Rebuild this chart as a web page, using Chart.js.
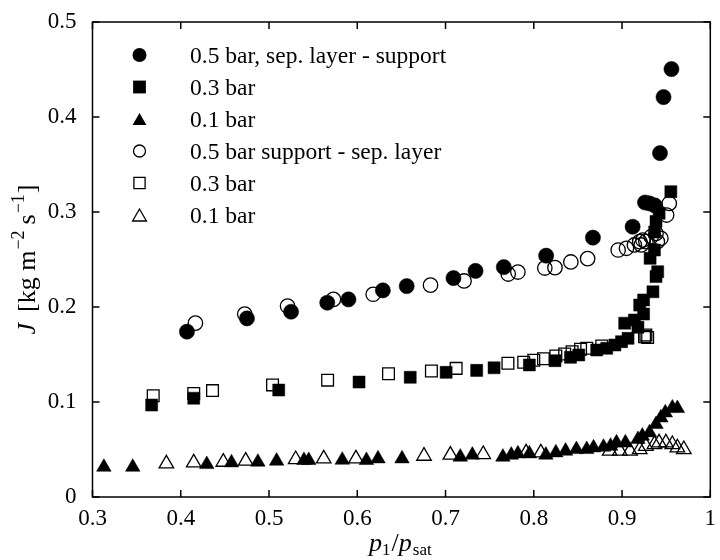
<!DOCTYPE html>
<html><head><meta charset="utf-8">
<script src="https://cdn.jsdelivr.net/npm/chart.js@4/dist/chart.umd.min.js"></script>
<style>html,body{margin:0;padding:0;background:#fff}</style>
</head><body>
<canvas id="c" width="720" height="560"></canvas>
<script>
// ---- data ----
const xTickValues = [0.3, 0.4, 0.5, 0.6, 0.7, 0.8, 0.9, 1];
const yTickValues = [0, 0.1, 0.2, 0.3, 0.4, 0.5];

const legendLabels = ["0.5 bar, sep. layer - support", "0.3 bar", "0.1 bar",
                      "0.5 bar support - sep. layer", "0.3 bar", "0.1 bar"];

// 0.5 bar, sep. layer - support (filled circles)
const c05fX = [0.407, 0.475, 0.525, 0.566, 0.590, 0.629, 0.656, 0.709, 0.734, 0.766, 0.814, 0.867, 0.912, 0.926, 0.931, 0.937, 0.943, 0.947, 0.956];
const c05fY = [0.174, 0.188, 0.195, 0.2045, 0.208, 0.2175, 0.222, 0.2305, 0.238, 0.242, 0.254, 0.273, 0.2845, 0.310, 0.309, 0.307, 0.362, 0.421, 0.4505];

// 0.3 bar (filled squares)
const s03fX = [0.367, 0.4147, 0.511, 0.602, 0.660, 0.7007, 0.7353, 0.755, 0.795, 0.824, 0.8416, 0.851, 0.8713, 0.8826, 0.8919, 0.8994, 0.9068, 0.903, 0.914, 0.918, 0.9244, 0.920, 0.9244, 0.935, 0.9385, 0.9404, 0.9318, 0.9367, 0.937, 0.9385, 0.942, 0.9553];
const s03fY = [0.0968, 0.104, 0.1126, 0.121, 0.126, 0.1312, 0.1333, 0.136, 0.139, 0.1435, 0.147, 0.1495, 0.1547, 0.1565, 0.160, 0.1635, 0.167, 0.183, 0.1863, 0.1786, 0.1926, 0.202, 0.2074, 0.216, 0.232, 0.2372, 0.2512, 0.260, 0.279, 0.290, 0.2986, 0.3214];

// 0.1 bar (filled triangles)
const t01fX = [0.3129, 0.3456, 0.4295, 0.4575, 0.4874, 0.5086, 0.5396, 0.545, 0.583, 0.6104, 0.6235, 0.6507, 0.7167, 0.7304, 0.765, 0.7745, 0.782, 0.795, 0.8137, 0.825, 0.836, 0.8483, 0.860, 0.8677, 0.879, 0.887, 0.8937, 0.9038, 0.918, 0.923, 0.9311, 0.9385, 0.944, 0.949, 0.957, 0.9627];
const t01fY = [0.0315, 0.0315, 0.0343, 0.0361, 0.0368, 0.0379, 0.0386, 0.0386, 0.0389, 0.0386, 0.0403, 0.0403, 0.0421, 0.0442, 0.0421, 0.0442, 0.0456, 0.0456, 0.0442, 0.0466, 0.0484, 0.0501, 0.0501, 0.0519, 0.0526, 0.0536, 0.0571, 0.0571, 0.0607, 0.0642, 0.0677, 0.0765, 0.0834, 0.0887, 0.0939, 0.0933];

// 0.5 bar support - sep. layer (open circles)
const c05oX = [0.4166, 0.4725, 0.521, 0.573, 0.618, 0.683, 0.721, 0.771, 0.782, 0.8125, 0.824, 0.842, 0.861, 0.8956, 0.905, 0.914, 0.9217, 0.920, 0.9236, 0.927, 0.933, 0.9385, 0.940, 0.944, 0.9505, 0.9535];
const c05oY = [0.183, 0.1926, 0.201, 0.208, 0.2134, 0.223, 0.2274, 0.2347, 0.2368, 0.241, 0.2414, 0.2474, 0.2509, 0.260, 0.2618, 0.2653, 0.2653, 0.2688, 0.2705, 0.2688, 0.274, 0.2775, 0.2688, 0.2723, 0.2968, 0.309];

// 0.3 bar (open squares)
const s03oX = [0.3688, 0.4147, 0.436, 0.504, 0.5664, 0.6354, 0.684, 0.712, 0.7707, 0.7886, 0.800, 0.811, 0.825, 0.835, 0.8434, 0.853, 0.860, 0.877, 0.9255, 0.927, 0.929];
const s03oY = [0.1066, 0.109, 0.112, 0.118, 0.123, 0.1298, 0.1326, 0.1354, 0.1407, 0.1418, 0.144, 0.1456, 0.1484, 0.1505, 0.153, 0.1555, 0.1565, 0.159, 0.1688, 0.1705, 0.168];

// 0.1 bar (open triangles)
const t01oX = [0.3837, 0.4147, 0.4482, 0.4736, 0.5302, 0.562, 0.5985, 0.6756, 0.7055, 0.7427, 0.7913, 0.808, 0.886, 0.8975, 0.909, 0.920, 0.927, 0.9367, 0.942, 0.9497, 0.957, 0.9627, 0.970];
const t01oY = [0.035, 0.0361, 0.0368, 0.0379, 0.0396, 0.0403, 0.0403, 0.0431, 0.0442, 0.0449, 0.0466, 0.0466, 0.0484, 0.0484, 0.0484, 0.0501, 0.0536, 0.0554, 0.0571, 0.0571, 0.0554, 0.0519, 0.0501];

// ---- build ----
const zip = (xs, ys) => xs.map((x, i) => ({x: x, y: ys[i]}));
const SERIF = '"Liberation Serif", "DejaVu Serif", serif';

const markerDefs = [
  {style: 'circle',   fill: true,  r: 7.6, lr: 7},
  {style: 'rect',     fill: true,  r: 8.5, lr: 6.4},
  {style: 'triangle', fill: true,  r: 8.4, lr: 8},
  {style: 'circle',   fill: false, r: 7.2, lr: 6},
  {style: 'rect',     fill: false, r: 8.3, lr: 5.6},
  {style: 'triangle', fill: false, r: 8.4, lr: 8}
];
const seriesData = [zip(c05fX, c05fY), zip(s03fX, s03fY), zip(t01fX, t01fY),
                    zip(c05oX, c05oY), zip(s03oX, s03oY), zip(t01oX, t01oY)];

const datasets = seriesData.map((d, i) => ({
  label: legendLabels[i],
  data: d,
  pointStyle: markerDefs[i].style,
  pointRadius: markerDefs[i].r,
  pointHoverRadius: markerDefs[i].r,
  pointBackgroundColor: markerDefs[i].fill ? '#000' : 'rgba(0,0,0,0)',
  pointBorderColor: '#000',
  pointBorderWidth: markerDefs[i].fill ? 0.5 : 1.3,
  showLine: false,
  order: markerDefs[i].fill ? 0 : 1
}));

function drawMarker(ctx, style, fill, x, y, r) {
  ctx.save();
  ctx.beginPath();
  if (style === 'circle') {
    ctx.arc(x, y, r, 0, Math.PI * 2);
  } else if (style === 'rect') {
    ctx.rect(x - r, y - r, 2 * r, 2 * r);
  } else {
    const w = r * Math.sin(Math.PI / 3);
    ctx.moveTo(x, y - r);
    ctx.lineTo(x + w, y + r / 2);
    ctx.lineTo(x - w, y + r / 2);
    ctx.closePath();
  }
  if (fill) { ctx.fillStyle = '#000'; ctx.fill(); }
  else { ctx.strokeStyle = '#000'; ctx.lineWidth = 1.3; ctx.stroke(); }
  ctx.restore();
}

function drawRich(ctx, segs, x, y, align) {
  let total = 0;
  segs.forEach(s => {
    ctx.font = (s.italic ? 'italic ' : '') + s.size + 'px ' + SERIF;
    s.w = ctx.measureText(s.t).width + (s.gap || 0);
    total += s.w;
  });
  let cx = align === 'center' ? x - total / 2 : x;
  segs.forEach(s => {
    ctx.font = (s.italic ? 'italic ' : '') + s.size + 'px ' + SERIF;
    ctx.fillText(s.t, cx, y + (s.dy || 0));
    cx += s.w;
  });
}

const framePlugin = {
  id: 'frame',
  afterDatasetsDraw(chart) {
    const ctx = chart.ctx;
    const a = chart.chartArea;
    const xs = chart.scales.x, ys = chart.scales.y;
    ctx.save();
    ctx.strokeStyle = '#000';
    ctx.lineWidth = 1.5;
    ctx.strokeRect(a.left, a.top, a.right - a.left, a.bottom - a.top);
    const L = 7;
    ctx.beginPath();
    xTickValues.forEach(v => {
      const p = xs.getPixelForValue(v);
      ctx.moveTo(p, a.bottom); ctx.lineTo(p, a.bottom - L);
      ctx.moveTo(p, a.top); ctx.lineTo(p, a.top + L);
    });
    yTickValues.forEach(v => {
      const p = ys.getPixelForValue(v);
      ctx.moveTo(a.left, p); ctx.lineTo(a.left + L, p);
      ctx.moveTo(a.right, p); ctx.lineTo(a.right - L, p);
    });
    ctx.stroke();

    // legend
    ctx.fillStyle = '#000';
    ctx.textBaseline = 'alphabetic';
    ctx.textAlign = 'left';
    legendLabels.forEach((lab, i) => {
      const cy = 55 + i * 32;
      const m = markerDefs[i];
      drawMarker(ctx, m.style, m.fill, 139.5, m.style === 'triangle' ? cy + 2 : cy, m.lr);
      ctx.font = '23.5px ' + SERIF;
      ctx.fillText(lab, 190, cy + 8);
    });

    // x title
    drawRich(ctx, [
      {t: 'p', italic: true, size: 26},
      {t: '1', size: 17, dy: 4, gap: 1},
      {t: '/', size: 26},
      {t: 'p', italic: true, size: 26, gap: 1},
      {t: 'sat', size: 17, dy: 4}
    ], (a.left + a.right) / 2 - 1, 551, 'center');

    // y title
    ctx.translate(35, (a.top + a.bottom) / 2);
    ctx.rotate(-Math.PI / 2);
    drawRich(ctx, [
      {t: 'J', italic: true, size: 26, gap: 11},
      {t: '[kg m', size: 26, gap: 1},
      {t: '\u22122', size: 18, dy: -11, gap: 6},
      {t: 's', size: 26, gap: 1},
      {t: '\u22121', size: 18, dy: -11, gap: 1},
      {t: ']', size: 26}
    ], 0, 0, 'center');
    ctx.restore();
  }
};

const fmt = v => {
  const r = Math.round(v * 10) / 10;
  if (Math.abs(r - Math.round(r)) < 1e-9) return String(Math.round(r));
  return r.toFixed(1);
};

new Chart(document.getElementById('c'), {
  type: 'scatter',
  data: {datasets: datasets},
  options: {
    responsive: false,
    animation: false,
    devicePixelRatio: 1,
    layout: {padding: {top: 22, right: 3, left: 0, bottom: 0}},
    plugins: {legend: {display: false}, tooltip: {enabled: false}},
    scales: {
      x: {
        type: 'linear', min: 0.3, max: 1,
        afterBuildTicks: s => { s.ticks = xTickValues.map(v => ({value: v})); },
        afterFit: s => { s.height = 63; s.paddingRight = 0; s.paddingLeft = 0; },
        grid: {display: false, drawTicks: false},
        border: {display: false},
        ticks: {color: '#000', font: {family: SERIF, size: 23}, padding: 8, maxRotation: 0, autoSkip: false, callback: v => fmt(v)}
      },
      y: {
        type: 'linear', min: 0, max: 0.5,
        afterBuildTicks: s => { s.ticks = yTickValues.map(v => ({value: v})); },
        afterFit: s => { s.width = 92.5; s.paddingTop = 0; s.paddingBottom = 0; },
        grid: {display: false, drawTicks: false},
        border: {display: false},
        ticks: {color: '#000', font: {family: SERIF, size: 23}, padding: 16, autoSkip: false, callback: v => fmt(v)}
      }
    }
  },
  plugins: [framePlugin]
});
</script>
</body></html>
